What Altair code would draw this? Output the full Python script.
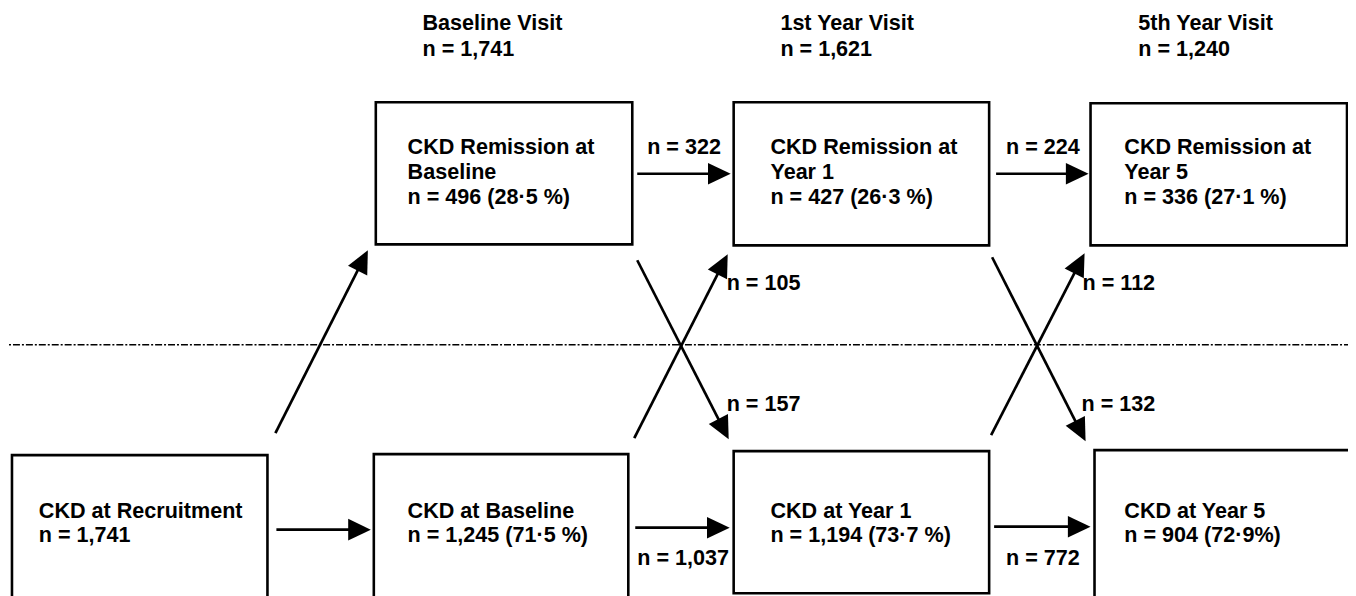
import math
import altair as alt
import pandas as pd

# ---- data (screen-like coordinates, px) ----
box_x1 = [378, 738, 1097, 12, 376, 738, 1101]
box_x2 = [636, 995, 1355, 269, 632, 995, 1380]
box_y1 = [101, 101, 102, 456, 455, 452, 451]
box_y2 = [244, 245, 245, 640, 640, 595, 640]

arrow_x1 = [278, 277, 641, 639, 641, 638, 1002, 1000, 998, 997]
arrow_y1 = [531, 434, 173, 529, 260, 439, 173, 528, 257, 436]
arrow_x2 = [373, 370, 735, 734, 733, 732, 1095, 1097, 1092, 1091]
arrow_y2 = [531, 250, 173, 529, 440, 254, 173, 528, 442, 253]

label_text = [
    "Baseline Visit", "n = 1,741",
    "1st Year Visit", "n = 1,621",
    "5th Year Visit", "n = 1,240",
    "CKD Remission at", "Baseline", "n = 496 (28·5 %)",
    "CKD Remission at", "Year 1", "n = 427 (26·3 %)",
    "CKD Remission at", "Year 5", "n = 336 (27·1 %)",
    "CKD at Recruitment", "n = 1,741",
    "CKD at Baseline", "n = 1,245 (71·5 %)",
    "CKD at Year 1", "n = 1,194 (73·7 %)",
    "CKD at Year 5", "n = 904 (72·9%)",
    "n = 322", "n = 224", "n = 105", "n = 112",
    "n = 157", "n = 132", "n = 1,037", "n = 772",
]
label_x = [
    425, 425, 785, 785, 1145, 1145,
    410, 410, 410,
    775, 775, 775,
    1131, 1131, 1131,
    39, 39,
    410, 410,
    775, 775,
    1131, 1131,
    651, 1012, 731, 1089,
    731, 1088, 641, 1012,
]
label_y = [
    28, 55, 28, 55, 28, 55,
    153, 178, 203,
    153, 178, 203,
    153, 178, 203,
    519, 543,
    519, 543,
    519, 543,
    519, 543,
    153, 153, 290, 290,
    412, 412, 567, 567,
]

divider_x = [0]
divider_x2 = [1356]
divider_y = [345]

# ---- tables ----
boxes = pd.DataFrame({"x": box_x1, "x2": box_x2, "y": box_y1, "y2": box_y2})

head_len = 15
shafts, heads = [], []
for x1, y1, x2, y2 in zip(arrow_x1, arrow_y1, arrow_x2, arrow_y2):
    dx, dy = x2 - x1, y2 - y1
    L = math.hypot(dx, dy)
    ex, ey = x2 - dx / L * head_len, y2 - dy / L * head_len
    shafts.append({"x": x1, "y": y1, "x2": ex, "y2": ey})
    ang = math.degrees(math.atan2(dx, -dy)) % 360
    heads.append({"x": x2, "y": y2, "angle": ang})
shafts = pd.DataFrame(shafts)
heads = pd.DataFrame(heads)

labels = pd.DataFrame({"x": label_x, "y": label_y, "text": label_text})
divider = pd.DataFrame({"x": divider_x, "x2": divider_x2, "y": divider_y})

W, H = 1348, 588
xs = alt.Scale(domain=[8, 8 + W], nice=False, zero=False)
ys = alt.Scale(domain=[8, 8 + H], nice=False, zero=False, reverse=True)


def X(f):
    return alt.X(f, type="quantitative", scale=xs, axis=None)


def Y(f):
    return alt.Y(f, type="quantitative", scale=ys, axis=None)


div_layer = alt.Chart(divider).mark_rule(
    color="black", strokeWidth=1.3, strokeDash=[7, 2, 2, 2]
).encode(x=X("x"), x2="x2", y=Y("y"))

box_layer = alt.Chart(boxes).mark_rect(
    fill="white", stroke="black", strokeWidth=2.6
).encode(x=X("x"), x2="x2", y=Y("y"), y2="y2")

shaft_layer = alt.Chart(shafts).mark_rule(
    color="black", strokeWidth=2.7
).encode(x=X("x"), x2="x2", y=Y("y"), y2="y2")

head_layer = alt.Chart(heads).mark_point(
    shape="M0,0L-0.95,2L0.95,2Z", filled=True, color="black",
    opacity=1, size=520, strokeWidth=0
).encode(x=X("x"), y=Y("y"), angle=alt.Angle("angle:Q", scale=None))

text_layer = alt.Chart(labels).mark_text(
    align="left", baseline="alphabetic", font="Liberation Sans",
    fontWeight="bold", fontSize=21.7, color="black"
).encode(x=X("x"), y=Y("y"), text="text:N")

chart = alt.layer(
    div_layer, box_layer, shaft_layer, head_layer, text_layer
).properties(
    width=W, height=H, autosize=alt.AutoSizeParams(type="none"), padding=0
).configure_view(stroke=None)

chart.save("out.html", embed_options={"renderer": "svg", "actions": False})
